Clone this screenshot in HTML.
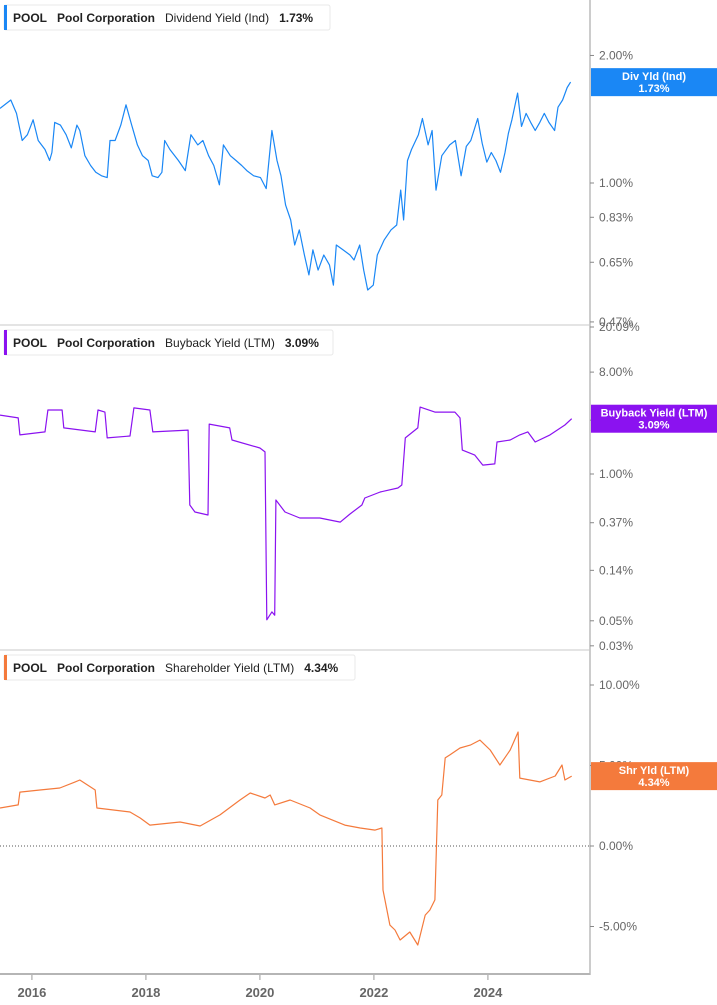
<!DOCTYPE html>
<html><head><meta charset="utf-8"><style>
body{margin:0;background:#fff;font-family:"Liberation Sans",sans-serif;}
svg{display:block}
</style></head><body>
<svg id="c" width="717" height="1005" xmlns="http://www.w3.org/2000/svg"></svg>
<script>
const divDates=[2015.44,2015.63,2015.73,2015.83,2015.92,2016.02,2016.11,2016.23,2016.31,2016.35,2016.40,2016.50,2016.60,2016.69,2016.79,2016.84,2016.93,2017.03,2017.12,2017.22,2017.32,2017.37,2017.46,2017.56,2017.65,2017.75,2017.85,2017.94,2018.04,2018.11,2018.21,2018.28,2018.33,2018.42,2018.57,2018.69,2018.79,2018.91,2019.00,2019.10,2019.19,2019.29,2019.36,2019.48,2019.58,2019.68,2019.77,2019.89,2020.01,2020.11,2020.21,2020.30,2020.37,2020.45,2020.54,2020.61,2020.69,2020.78,2020.86,2020.93,2021.02,2021.12,2021.22,2021.29,2021.34,2021.46,2021.58,2021.65,2021.75,2021.82,2021.89,2021.99,2022.06,2022.18,2022.30,2022.40,2022.47,2022.52,2022.59,2022.66,2022.78,2022.85,2022.95,2023.02,2023.09,2023.19,2023.33,2023.43,2023.53,2023.62,2023.70,2023.82,2023.90,2023.98,2024.06,2024.14,2024.22,2024.30,2024.36,2024.42,2024.52,2024.59,2024.67,2024.75,2024.83,2024.91,2024.99,2025.07,2025.17,2025.23,2025.31,2025.39,2025.45];
const divValues=[1.50,1.57,1.46,1.26,1.30,1.41,1.26,1.20,1.13,1.18,1.39,1.37,1.30,1.21,1.37,1.33,1.16,1.10,1.06,1.04,1.03,1.26,1.26,1.37,1.53,1.37,1.23,1.16,1.13,1.04,1.03,1.06,1.26,1.20,1.13,1.07,1.30,1.23,1.26,1.16,1.10,0.99,1.23,1.16,1.13,1.10,1.07,1.04,1.03,0.97,1.33,1.13,1.04,0.887,0.818,0.714,0.775,0.676,0.607,0.695,0.623,0.676,0.640,0.574,0.714,0.695,0.676,0.658,0.714,0.623,0.559,0.574,0.676,0.734,0.775,0.796,0.962,0.818,1.13,1.20,1.30,1.42,1.23,1.33,0.962,1.16,1.23,1.26,1.04,1.22,1.26,1.42,1.24,1.12,1.18,1.13,1.06,1.18,1.31,1.41,1.63,1.36,1.46,1.39,1.33,1.39,1.46,1.39,1.33,1.51,1.57,1.68,1.73];
const bbDates=[2015.44,2015.76,2015.79,2016.23,2016.28,2016.53,2016.56,2017.11,2017.16,2017.28,2017.32,2017.72,2017.79,2018.07,2018.12,2018.74,2018.77,2018.86,2019.09,2019.11,2019.47,2019.51,2020.00,2020.09,2020.12,2020.21,2020.26,2020.28,2020.44,2020.70,2021.05,2021.41,2021.58,2021.79,2021.84,2022.11,2022.42,2022.49,2022.55,2022.77,2022.81,2023.07,2023.42,2023.51,2023.55,2023.77,2023.91,2024.12,2024.16,2024.39,2024.56,2024.70,2024.83,2025.09,2025.35,2025.47];
const bbValues=[3.33,3.14,2.22,2.36,3.69,3.69,2.56,2.36,3.69,3.54,2.09,2.17,3.85,3.69,2.36,2.45,0.531,0.460,0.433,2.77,2.56,2.00,1.70,1.57,0.051,0.060,0.056,0.588,0.460,0.407,0.407,0.375,0.442,0.531,0.613,0.693,0.751,0.799,2.09,2.56,3.92,3.54,3.54,3.14,1.63,1.47,1.20,1.23,1.92,2.00,2.22,2.36,1.92,2.22,2.72,3.09];
const shDates=[2015.44,2015.76,2015.79,2016.14,2016.49,2016.76,2016.84,2017.11,2017.14,2017.72,2017.90,2018.07,2018.60,2018.95,2019.30,2019.65,2019.83,2020.09,2020.18,2020.26,2020.53,2020.88,2021.05,2021.49,2021.76,2022.02,2022.14,2022.16,2022.28,2022.37,2022.46,2022.63,2022.77,2022.90,2022.98,2023.07,2023.12,2023.19,2023.25,2023.33,2023.51,2023.69,2023.86,2024.04,2024.21,2024.39,2024.53,2024.56,2024.91,2025.18,2025.30,2025.35,2025.47];
const shValues=[2.36,2.55,3.35,3.48,3.60,3.98,4.10,3.48,2.36,2.11,1.74,1.30,1.49,1.24,1.93,2.86,3.29,2.98,3.17,2.55,2.86,2.36,1.93,1.30,1.12,0.99,1.12,-2.73,-4.91,-5.22,-5.84,-5.34,-6.15,-4.29,-3.98,-3.35,2.86,3.17,5.47,5.65,6.09,6.27,6.58,5.96,5.03,5.96,7.08,4.22,3.98,4.35,5.03,4.10,4.34];
const xTicks=[2016,2018,2020,2022,2024];
const divTicks=[2.00,1.00,0.83,0.65,0.47];
const bbTicks=[20.09,8.00,3.00,1.00,0.37,0.14,0.05,0.03];
const shTicks=[10,5,0,-5];

const NS="http://www.w3.org/2000/svg";
const svg=document.getElementById('c');
function el(t,a,p){const e=document.createElementNS(NS,t);for(const k in a)e.setAttribute(k,a[k]);(p||svg).appendChild(e);return e;}
const xS=yr=>(yr-2015.44)*57;
const y1=v=>183-184*Math.log(v);
const y2=v=>474-49*Math.log(v);
const y3=v=>846-16.1*v;

function panel(name,dates,vals,ys,ticks,fmt,color,legendTitle,legendVal,legendW,top,boxLabel,boxVal){
  const g=el('g',{});
  
  
  ticks.forEach(t=>{
    const y=ys(t);
    const tm=el('line',{x1:590,x2:594,y1:y,y2:y,stroke:'#888','stroke-width':1},g);
    
    
    const tx=el('text',{x:599,y:y+4,'font-size':12,fill:'#666'},g);
    tx.textContent=fmt(t);
    
    
  });
  let d='';
  dates.forEach((dt,i)=>{d+=(i?'L':'M')+xS(dt).toFixed(1)+' '+ys(vals[i]).toFixed(1);});
  const p=el('path',{d:d,fill:'none',stroke:color,'stroke-width':1.2,'stroke-linejoin':'round'},g);
  
  
  const lg=el('g',{},g);
  
  
  el('rect',{x:4,y:top+5,width:legendW,height:25,rx:2,fill:'#fff',stroke:'#e8e8e8'},lg);
  el('rect',{x:4,y:top+5,width:3,height:25,fill:color},lg);
  const lt=el('text',{x:13,y:top+22,'font-size':12,'font-weight':'bold',fill:'#222'},lg);
  lt.innerHTML='POOL<tspan dx="10">Pool Corporation</tspan><tspan dx="10" font-weight="normal">'+legendTitle+'</tspan><tspan dx="10">'+legendVal+'</tspan>';
  const last=vals[vals.length-1];
  const cy=ys(last);
  const vb=el('g',{},g);
  
  
  el('rect',{x:591,y:cy-14,width:126,height:28,fill:color},vb);
  const t1=el('text',{x:654,y:cy-2,'font-size':11,'font-weight':'bold',fill:'#fff','text-anchor':'middle'},vb);
  t1.textContent=boxLabel;
  const t2=el('text',{x:654,y:cy+10,'font-size':11,'font-weight':'bold',fill:'#fff','text-anchor':'middle'},vb);
  t2.textContent=boxVal;
}
const ax=el('line',{x1:590,x2:590,y1:0,y2:975,stroke:'#999','stroke-width':1});


[325,650].forEach(y=>{
  const s=el('line',{x1:0,x2:590,y1:y,y2:y,stroke:'#c8c8c8','stroke-width':1});
  
  
});
const zl=el('line',{x1:0,x2:590,y1:y3(0),y2:y3(0),stroke:'#555','stroke-width':1,'stroke-dasharray':'1,2'});



panel('dividend-yield',divDates,divValues,y1,divTicks,t=>t.toFixed(2)+'%','#1a87f5','Dividend Yield (Ind)','1.73%',326,0,'Div Yld (Ind)','1.73%');
panel('buyback-yield',bbDates,bbValues,y2,bbTicks,t=>t.toFixed(2)+'%','#8b12f0','Buyback Yield (LTM)','3.09%',329,325,'Buyback Yield (LTM)','3.09%');
panel('shareholder-yield',shDates,shValues,y3,shTicks,t=>t.toFixed(2)+'%','#f47a3c','Shareholder Yield (LTM)','4.34%',351,650,'Shr Yld (LTM)','4.34%');

const xa=el('line',{x1:0,x2:590,y1:974,y2:974,stroke:'#b5b5b5','stroke-width':2});


xTicks.forEach(t=>{
  const x=xS(t);
  const m=el('line',{x1:x,x2:x,y1:975,y2:980,stroke:'#999'});
  
  
  const tx=el('text',{x:x,y:997,'font-size':13,'font-weight':'bold',fill:'#666','text-anchor':'middle'});
  tx.textContent=t;
  
  
});
</script>
</body></html>
